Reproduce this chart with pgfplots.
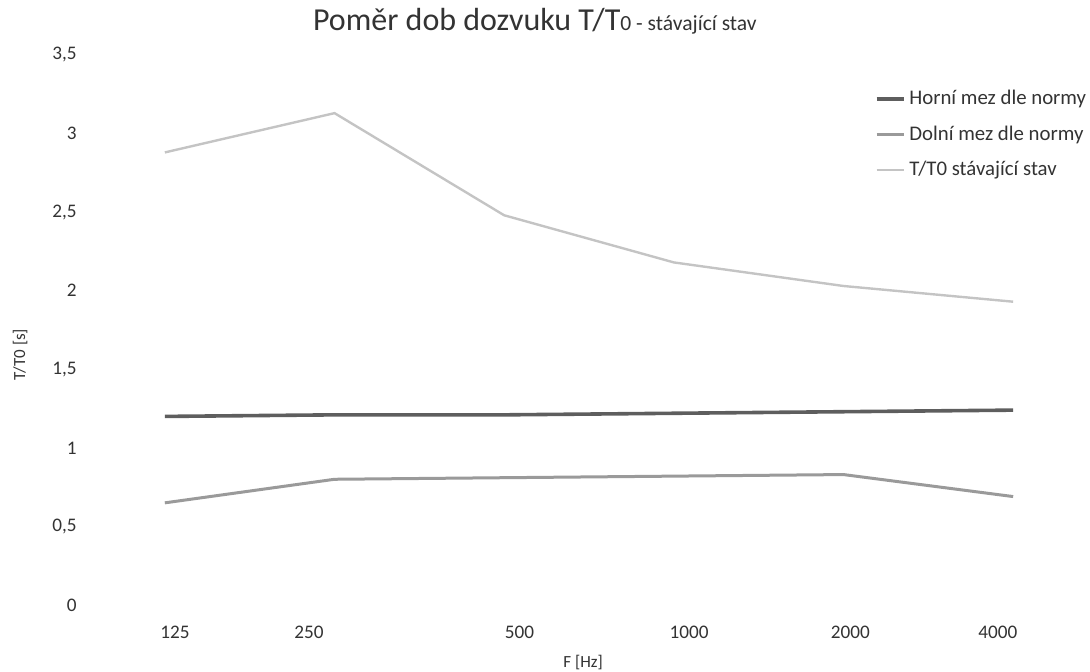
\documentclass[border=0pt]{standalone}
\usepackage{fontspec}
\setmainfont{Carlito}
\usepackage{pgfplots}
\pgfplotsset{compat=1.18}
\definecolor{upper}{HTML}{5E5E5E}
\definecolor{lower}{HTML}{9A9A9A}
\definecolor{ratio}{HTML}{C4C4C4}
\definecolor{txt}{HTML}{333333}
\begin{document}
\begin{tikzpicture}
\path[use as bounding box] (0,0) rectangle (545pt,336pt);
\begin{axis}[
  at={(48.5pt,33.5pt)}, anchor=south west,
  scale only axis, width=492pt, height=275pt,
  xmin=-0.4, xmax=5.4, ymin=0, ymax=3.5,
  % label positions as in the scan
  xtick={0.06,0.85,2.09,3.09,4.04,4.91}, xticklabels={125,250,500,1000,2000,4000},
  ytick={0,0.5,...,3.5},
  axis line style={draw=none}, tick style={draw=none},
  /pgf/number format/use comma,
  /pgf/number format/assume math mode=true,
  ticklabel style={font=\fontsize{9.6}{11}\selectfont, text=txt},
  yticklabel style={anchor=east, inner sep=0pt, xshift=-10pt},
  xticklabel style={anchor=center, inner sep=0pt, yshift=-13.5pt},
  title={Poměr dob dozvuku T/T{\fontsize{10.8}{12}\selectfont 0 - stávající stav}},
  title style={at={(rel axis cs:0.445,1.04)}, anchor=center, font=\fontsize{16}{18}\selectfont, text=txt},
  xlabel={F [Hz]},
  xlabel style={at={(rel axis cs:0.494,-0.104)}, anchor=center, font=\fontsize{8.5}{10}\selectfont, text=txt},
  ylabel={T/T0 [s]},
  ylabel style={at={(rel axis cs:-0.078,0.455)}, anchor=center, rotate=0, font=\fontsize{8.5}{10}\selectfont, text=txt},
  legend style={at={(rel axis cs:0.79,0.944)}, anchor=north west, draw=none, fill=none,
    font=\fontsize{10.4}{12}\selectfont, text=txt, row sep=5pt, inner sep=0pt},
  legend cell align=left,
  legend image code/.code={\draw[#1] (0pt,0pt) -- (13.5pt,0pt);},
]
\addplot[upper, line width=1.8pt] coordinates {(0,1.20) (1,1.21) (2,1.21) (3,1.22) (4,1.23) (5,1.24)};
\addlegendentry{Horní mez dle normy}
\addplot[lower, line width=1.5pt] coordinates {(0,0.65) (1,0.80) (2,0.81) (3,0.82) (4,0.83) (5,0.69)};
\addlegendentry{Dolní mez dle normy}
\addplot[ratio, line width=1.2pt] coordinates {(0,2.88) (1,3.13) (2,2.48) (3,2.18) (4,2.03) (5,1.93)};
\addlegendentry{T/T0 stávající stav}
\end{axis}
\end{tikzpicture}
\end{document}
